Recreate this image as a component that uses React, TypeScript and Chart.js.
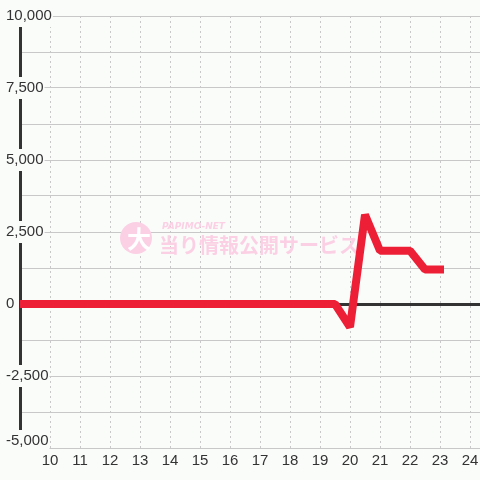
import React, { useEffect, useRef } from 'react';
import { Chart, registerables } from 'chart.js';

Chart.register(...registerables);

const times = [9, 9.5, 10, 10.5, 11, 11.5, 12, 12.5, 13, 13.5, 14, 14.5, 15, 15.5, 16, 16.5, 17, 17.5, 18, 18.5, 19, 19.5, 20, 20.5, 21, 21.5, 22, 22.5, 23];
const values = [0, 0, 0, 0, 0, 0, 0, 0, 0, 0, 0, 0, 0, 0, 0, 0, 0, 0, 0, 0, 0, 0, -800, 3100, 1850, 1850, 1850, 1200, 1200];
const xTickHours = [10, 11, 12, 13, 14, 15, 16, 17, 18, 19, 20, 21, 22, 23, 24];
const yLabelValues = [-5000, -2500, 0, 2500, 5000, 7500, 10000];
const Y_MIN = -5000;
const Y_MAX = 10000;
const watermarkSmall = 'PAPIMO-NET';
const watermarkMark = '大';
const watermarkText = '当り情報公開サービス';

const BG = '#fafcfa';
const FONT = '"Liberation Sans", Arial, sans-serif';
const fmt = (v: number) => Number(v).toLocaleString('en-US');

const bgPlugin = {
  id: 'bgFill',
  beforeDraw(chart: any) {
    const { ctx, width, height } = chart;
    ctx.save();
    ctx.fillStyle = BG;
    ctx.fillRect(0, 0, width, height);
    ctx.restore();
  },
};

// bottom y label sits just inside the plot edge (like the original chart)
const bottomLabelPlugin = {
  id: 'bottomYLabel',
  beforeDatasetsDraw(chart: any) {
    const { ctx } = chart;
    const y = chart.scales.y.getPixelForValue(Y_MIN) - 7;
    const text = fmt(Y_MIN);
    ctx.save();
    ctx.font = '15px ' + FONT;
    const w = ctx.measureText(text).width;
    ctx.fillStyle = BG;
    ctx.fillRect(5, y - 11, w + 2, 22);
    ctx.fillStyle = '#333';
    ctx.textAlign = 'left';
    ctx.textBaseline = 'middle';
    ctx.fillText(text, 6, y);
    ctx.restore();
  },
};

const watermarkPlugin = {
  id: 'watermark',
  beforeDatasetsDraw(chart: any) {
    const { ctx, chartArea } = chart;
    const cx = (chartArea.left + chartArea.right) / 2;
    const cy = (chartArea.top + chartArea.bottom) / 2;
    ctx.save();
    const pink = '#fbd0e4';
    ctx.fillStyle = pink;
    ctx.beginPath();
    ctx.arc(cx - 114, cy + 6, 16, 0, Math.PI * 2);
    ctx.fill();
    ctx.fillStyle = '#ffffff';
    ctx.textAlign = 'center';
    ctx.textBaseline = 'middle';
    ctx.font = 'bold 24px "Noto Sans CJK JP", sans-serif';
    ctx.fillText(watermarkMark, cx - 111, cy + 7);
    ctx.fillStyle = pink;
    ctx.textAlign = 'left';
    ctx.font = 'bold italic 9px "DejaVu Sans", sans-serif';
    ctx.fillText(watermarkSmall, cx - 88, cy - 5);
    ctx.font = 'bold 20px "Noto Sans CJK JP", sans-serif';
    ctx.fillText(watermarkText, cx - 91, cy + 13);
    ctx.restore();
  },
};

export default function App() {
  const ref = useRef<HTMLCanvasElement | null>(null);

  useEffect(() => {
    if (!ref.current) return;
    const chart = new Chart(ref.current, {
      type: 'line',
      data: {
        datasets: [
          {
            data: times.map((t, i) => ({ x: t, y: values[i] })),
            borderColor: '#ed1f36',
            backgroundColor: '#ed1f36',
            borderWidth: 8,
            borderCapStyle: 'square',
            borderJoinStyle: 'bevel',
            pointRadius: 0,
            tension: 0,
            fill: false,
          },
        ],
      },
      options: {
        animation: false,
        responsive: false,
        maintainAspectRatio: false,
        events: [],
        layout: { padding: { left: 6, top: 16, right: 0, bottom: 0 } },
        plugins: {
          legend: { display: false },
          tooltip: { enabled: false },
          title: { display: false },
        },
        scales: {
          x: {
            type: 'linear',
            min: 9,
            max: 24 + 1 / 3,
            afterBuildTicks: (scale: any) => {
              scale.ticks = xTickHours.map((v) => ({ value: v }));
            },
            afterFit: (scale: any) => {
              scale.height = 32;
              scale.paddingLeft = 0;
              scale.paddingRight = 0;
            },
            ticks: {
              autoSkip: false,
              maxRotation: 0,
              padding: 4,
              z: 1,
              color: '#333',
              font: { family: FONT, size: 15 },
              callback: (v: any) => String(v),
            },
            grid: {
              color: '#c8c8c8',
              lineWidth: 1,
              drawTicks: false,
            },
            border: { display: false, dash: [2, 3] },
          },
          y: {
            type: 'linear',
            min: Y_MIN,
            max: Y_MAX,
            afterFit: (scale: any) => {
              scale.width = 14;
              scale.paddingTop = 0;
              scale.paddingBottom = 0;
            },
            ticks: {
              stepSize: 1250,
              mirror: true,
              crossAlign: 'near',
              padding: -14,
              color: '#333',
              font: { family: FONT, size: 15 },
              callback: (v: any) => (yLabelValues.includes(v) && v !== Y_MIN ? fmt(v) : ''),
              showLabelBackdrop: (ctx: any) => {
                const v = ctx.tick && ctx.tick.value;
                return yLabelValues.includes(v) && v !== Y_MIN;
              },
              backdropColor: BG,
              backdropPadding: { top: 2, bottom: 2, left: 1, right: 1 },
            },
            grid: {
              color: (ctx: any) => (ctx.tick && ctx.tick.value === 0 ? '#333333' : '#c8c8c8'),
              lineWidth: (ctx: any) => (ctx.tick && ctx.tick.value === 0 ? 3 : 1),
              drawTicks: false,
            },
            border: { display: true, color: '#333333', width: 3 },
          },
        },
      } as any,
      plugins: [bgPlugin, bottomLabelPlugin, watermarkPlugin],
    });
    return () => chart.destroy();
  }, []);

  return (
    <div style={{ position: 'absolute', left: 0, top: 0, width: 480, height: 480 }}>
      <canvas ref={ref} width={480} height={480} style={{ display: 'block' }} />
    </div>
  );
}
